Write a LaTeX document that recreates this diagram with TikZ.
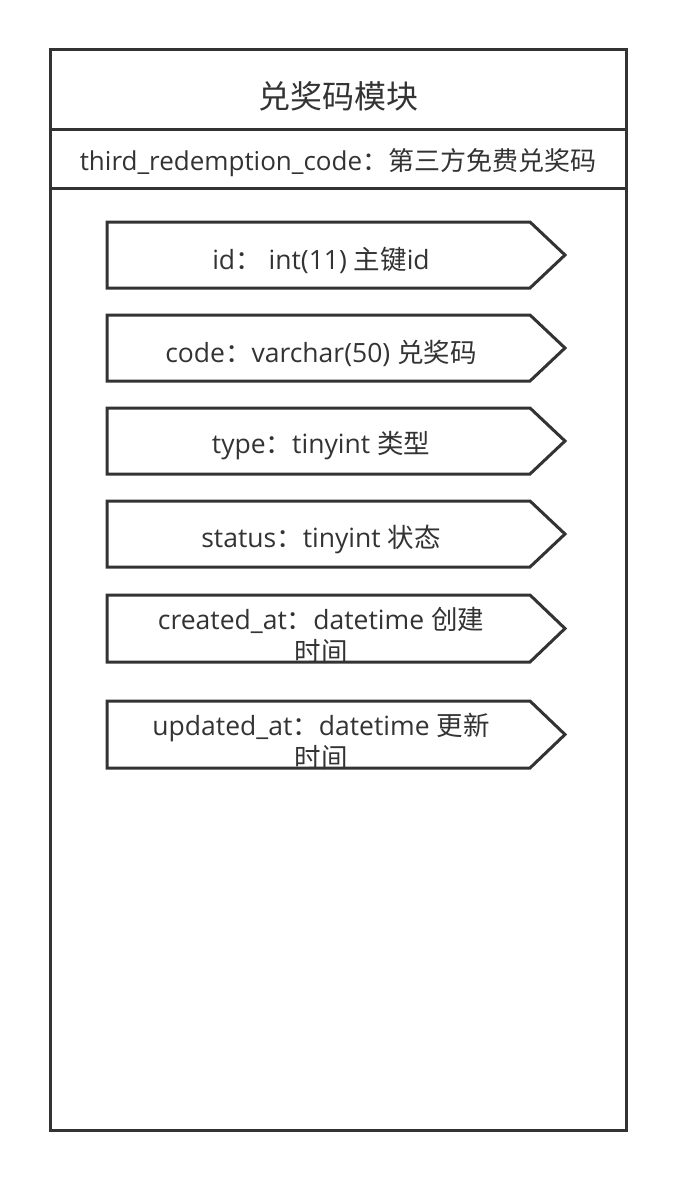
\documentclass[tikz,border=0pt]{standalone}
\usepackage{fontspec}
\setmainfont{Open Sans}
\newfontfamily\cjk{Noto Sans CJK SC}
\definecolor{ink}{HTML}{333333}
\tikzset{
  frame/.style={draw=ink, line width=3pt},
  fieldshape/.style={draw=ink, line width=3pt, line join=miter},
  titletext/.style={text=ink, font=\fontsize{32}{38}\selectfont, inner sep=0pt},
  subtext/.style={text=ink, font=\fontsize{26}{32}\selectfont, inner sep=0pt},
  fieldtext/.style={text=ink, font=\fontsize{26.5}{32}\selectfont, align=center, inner sep=0pt},
}
\newcommand\fieldbox[5]{%
  \draw[fieldshape] (107,#1) -- (530,#1) -- (565,#1+#2/2) -- (530,#1+#2) -- (107,#1+#2) -- cycle;
  \node[fieldtext] (#3) at (321,#1+#4) {#5};}
\begin{document}
\begin{tikzpicture}[x=1pt,y=-1pt]
\useasboundingbox (0,0) rectangle (676,1180);
\draw[frame] (50,50) rectangle (626,1130);
\draw[frame] (50,130) -- (626,130);
\draw[frame] (50,188) -- (626,188);
\node[titletext] (title) at (338,96) {\cjk 兑奖码模块};
\node[subtext] (table) at (338,163) {third\_redemption\_code{\cjk ：第三方免费兑奖码}};
\fieldbox{222}{66}{fid}{38}{id{\cjk ：}\ int(11) {\cjk 主键}id}
\fieldbox{315}{66}{fcode}{38}{code{\cjk ：}varchar(50) {\cjk 兑奖码}}
\fieldbox{408}{66}{ftype}{38}{type{\cjk ：}tinyint {\cjk 类型}}
\fieldbox{501}{66}{fstatus}{38}{status{\cjk ：}tinyint {\cjk 状态}}
\fieldbox{595}{67}{fcreated}{40}{created\_at{\cjk ：}datetime {\cjk 创建}\\{\cjk 时间}}
\fieldbox{701}{67}{fupdated}{40}{updated\_at{\cjk ：}datetime {\cjk 更新}\\{\cjk 时间}}
\end{tikzpicture}
\end{document}
